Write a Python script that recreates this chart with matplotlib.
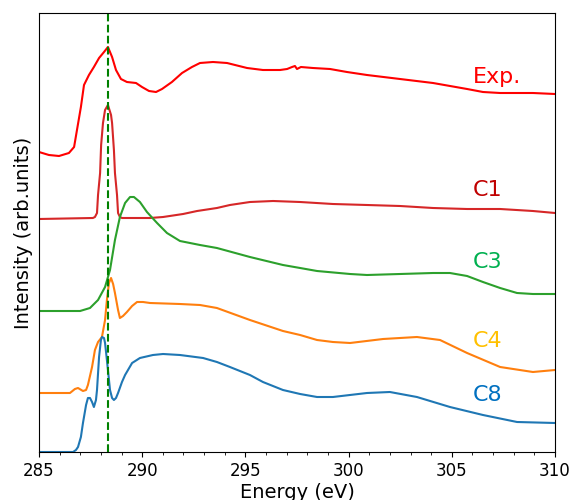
import numpy as np
import matplotlib.pyplot as plt

# spectra, energies in eV, intensities in arb. units (stacked)
exp_e = [285.00, 285.48, 285.97, 286.45, 286.70, 286.84, 287.03, 287.18, 287.42, 287.66,
         287.91, 288.15, 288.34, 288.54, 288.73, 288.97, 289.26, 289.70, 289.99, 290.33,
         290.67, 290.96, 291.44, 291.93, 292.41, 292.80, 293.43, 294.11, 295.08, 295.85,
         296.68, 297.02, 297.26, 297.40, 297.50, 297.69, 298.27, 299.10, 299.92, 300.89,
         302.49, 304.09, 305.74, 306.51, 307.34, 308.93, 310.00]
exp_i = [300, 297, 296, 299, 305, 322, 345, 367, 377, 385,
         394, 400, 405, 395, 382, 373, 370, 369, 365, 361,
         360, 363, 370, 379, 385, 389, 390, 389, 384, 382,
         382, 383, 385, 386, 383, 385, 384, 383, 380, 377,
         373, 369, 363, 360, 359, 359, 358]

c1_e = [285.00, 287.61, 287.71, 287.81, 287.86, 287.96, 288.01, 288.10, 288.20, 288.34,
        288.49, 288.54, 288.63, 288.68, 288.78, 288.83, 288.92, 289.02, 290.38, 291.01,
        291.98, 292.66, 293.62, 294.25, 295.22, 296.34, 297.65, 299.24, 300.89, 302.49,
        304.09, 305.74, 307.34, 308.93, 310.00]
c1_i = [233, 234, 235, 239, 257, 279, 307, 329, 342, 347,
        337, 329, 302, 279, 257, 239, 235, 234, 234, 235,
        238, 241, 244, 247, 250, 251, 250, 248, 247, 246,
        244, 243, 243, 241, 239]

c3_e = [285.00, 286.99, 287.47, 287.86, 288.20, 288.44, 288.68, 288.92, 289.17, 289.41,
        289.60, 289.89, 290.23, 290.72, 291.20, 291.83, 292.80, 293.62, 295.22, 296.82,
        297.65, 298.47, 300.07, 300.89, 302.49, 304.09, 304.91, 305.74, 306.51, 307.34,
        308.16, 308.93, 310.00]
c3_i = [141, 141, 144, 152, 165, 182, 212, 235, 249, 255,
        255, 250, 240, 229, 219, 211, 207, 204, 195, 187,
        184, 181, 178, 177, 178, 179, 179, 176, 170, 164,
        159, 158, 158]

c4_e = [285.00, 286.50, 286.74, 286.89, 287.13, 287.28, 287.37, 287.57, 287.71, 287.86,
        288.05, 288.20, 288.29, 288.39, 288.49, 288.59, 288.68, 288.83, 288.92, 289.07,
        289.26, 289.51, 289.75, 290.04, 290.38, 291.83, 292.80, 293.62, 295.22, 296.82,
        297.65, 298.47, 299.24, 300.07, 301.67, 303.31, 304.43, 305.74, 307.34, 308.93,
        310.00]
c4_i = [59, 59, 63, 64, 61, 62, 67, 85, 102, 110,
        115, 132, 152, 169, 174, 168, 159, 142, 134, 136,
        140, 146, 150, 150, 149, 148, 147, 144, 132, 121,
        117, 112, 110, 109, 113, 115, 112, 99, 85, 80,
        82]

c8_e = [285.00, 286.65, 286.79, 286.89, 287.03, 287.13, 287.28, 287.37, 287.47, 287.57,
        287.66, 287.76, 287.81, 287.91, 288.00, 288.05, 288.15, 288.20, 288.29, 288.34,
        288.44, 288.54, 288.63, 288.73, 288.83, 289.02, 289.17, 289.51, 289.89, 290.52,
        291.01, 291.83, 292.95, 293.62, 294.25, 295.22, 295.85, 296.82, 297.65, 298.47,
        299.24, 300.89, 302.00, 303.31, 304.91, 306.51, 308.16, 310.00]
c8_i = [0, 0, 2, 5, 15, 29, 47, 54, 54, 50,
        45, 52, 62, 95, 112, 115, 114, 109, 92, 82,
        62, 54, 52, 54, 59, 70, 77, 89, 94, 97,
        98, 97, 94, 90, 85, 77, 70, 62, 58, 55,
        55, 59, 60, 55, 45, 37, 30, 29]

names = ['Exp.', 'C1', 'C3', 'C4', 'C8']
line_colors = ['#ff0000', '#d62728', '#2ca02c', '#ff7f0e', '#1f77b4']
text_colors = ['#ff0000', '#c00000', '#00b050', '#ffc000', '#0070c0']
label_y = [375, 262, 190, 111, 57]
edge_pos = 288.35

fig = plt.figure(figsize=(5.71, 5.0), dpi=100)
ax = fig.add_axes([0.0683, 0.096, 0.9037, 0.878])

curves = [(exp_e, exp_i), (c1_e, c1_i), (c3_e, c3_i), (c4_e, c4_i), (c8_e, c8_i)]
for (e, i), lc in zip(curves, line_colors):
    ax.plot(e, i, color=lc, lw=1.5)

for name, tc, y in zip(names, text_colors, label_y):
    ax.text(306.0, y, name, color=tc, fontsize=16, ha='left', va='center')

ax.axvline(edge_pos, color='green', ls='--', lw=1.5)

ax.set_xlim(285, 310)
ax.set_ylim(0, 439)
ax.set_xticks(np.arange(285, 311, 5))
ax.set_xticks(np.arange(285, 311, 1), minor=True)
ax.set_yticks([])
ax.tick_params(axis='x', labelsize=12)
ax.set_xlabel('Energy (eV)', fontsize=14, labelpad=2)
ax.set_ylabel('Intensity (arb.units)', fontsize=14)

fig.savefig('out.png', dpi=100)
